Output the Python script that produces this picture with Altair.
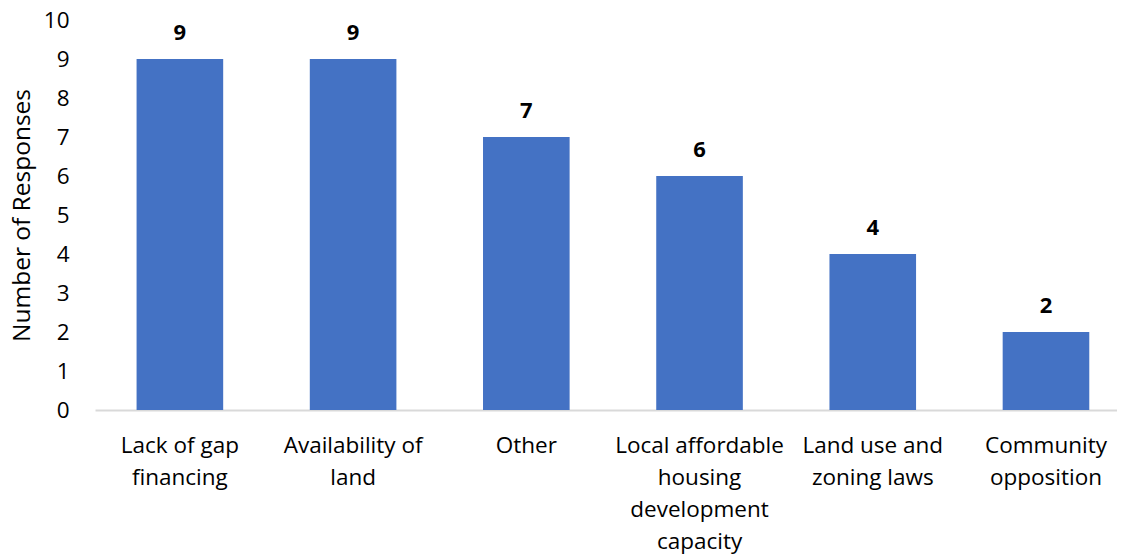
import altair as alt
import pandas as pd

categories = [
    "Lack of gap financing",
    "Availability of land",
    "Other",
    "Local affordable housing development capacity",
    "Land use and zoning laws",
    "Community opposition",
]
label_lines = [
    ["Lack of gap", "financing"],
    ["Availability of", "land"],
    ["Other"],
    ["Local affordable", "housing", "development", "capacity"],
    ["Land use and", "zoning laws"],
    ["Community", "opposition"],
]
values = [9, 9, 7, 6, 4, 2]

df = pd.DataFrame({"category": categories, "value": values})

label_map = {c: "|".join(l) for c, l in zip(categories, label_lines)}
label_expr = "split(" + str(label_map).replace("'", '"') + "[datum.value], '|')"

FONT = "Open Sans"

base = alt.Chart(df).encode(
    x=alt.X(
        "category:N",
        sort=categories,
        scale=alt.Scale(paddingInner=0.5, paddingOuter=0.2, align=0.6),
        axis=alt.Axis(
            title=None,
            labelAngle=0,
            labelExpr=label_expr,
            labelFontSize=22.5,
            labelFont=FONT,
            labelColor="#000000",
            labelLineHeight=32,
            labelPadding=24,
            ticks=False,
            domainColor="#d9d9d9",
            domainWidth=2,
        ),
    ),
    y=alt.Y(
        "value:Q",
        scale=alt.Scale(domain=[0, 10]),
        axis=alt.Axis(
            title="Number of Responses",
            titleFontSize=24.5,
            titleFont=FONT,
            titleFontWeight="normal",
            titleColor="#000000",
            titlePadding=9,
            values=list(range(0, 11)),
            labelFontSize=22.5,
            labelFont=FONT,
            labelColor="#000000",
            labelPadding=26,
            ticks=False,
            domain=False,
            grid=False,
        ),
    ),
)

bars = base.mark_bar(color="#4472C4")
text = base.mark_text(
    dy=-26, fontSize=22, fontWeight="bold", font=FONT, color="#000000"
).encode(text="value:Q")

chart = (
    (bars + text)
    .properties(
        width=1022,
        height=390,
        autosize=alt.AutoSizeParams(type="none"),
        padding={"left": 87, "top": 12, "right": 0, "bottom": 146},
    )
    .configure_view(stroke=None)
)

chart.save("out.html", embed_options={"renderer": "svg", "actions": False})
